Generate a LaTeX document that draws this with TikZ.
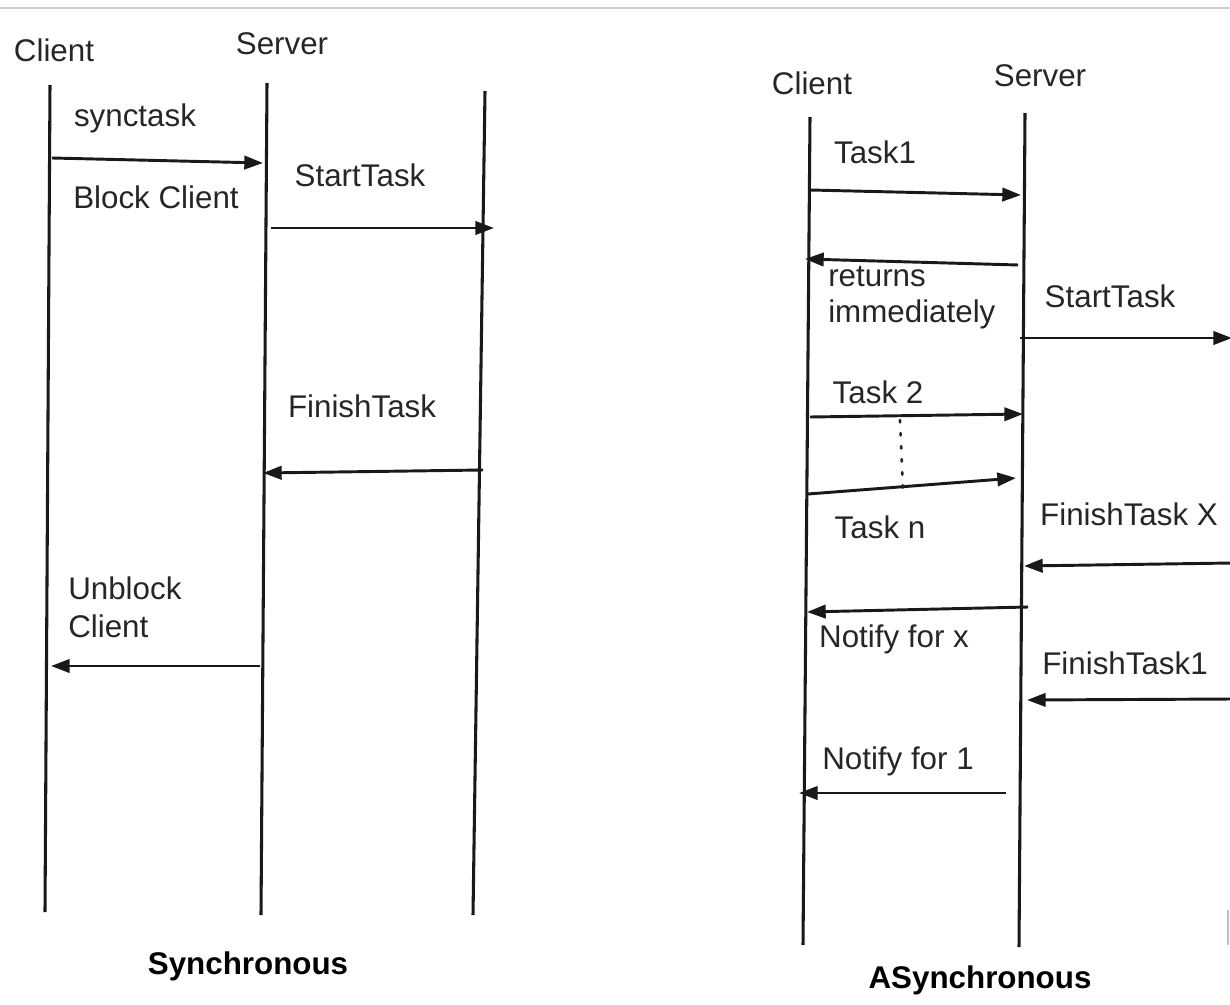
\documentclass[tikz,border=0pt]{standalone}
\usepackage{fontspec}
\setmainfont{Liberation Sans}
\usetikzlibrary{arrows.meta}
\begin{document}
\begin{tikzpicture}[x=0.75pt,y=-0.75pt,
  lifeline/.style={line width=2.3pt,black!90},
  msg/.style={line width=2.2pt,black!90,-{Triangle[length=14pt,width=10pt]}},
  lbl/.style={inner sep=0pt,font=\fontsize{23.5pt}{28pt}\selectfont,text=black!85},
  ttl/.style={inner sep=0pt,font=\fontsize{23.5pt}{28pt}\selectfont\bfseries}]
\useasboundingbox (0,0) rectangle (1230,1005);
\draw[line width=2.2pt,black!20] (0,8) -- (1230,8);
\draw[line width=1.5pt,black!25] (1228,910) -- (1228,945);
% ---------- Synchronous ----------
\coordinate (sc1) at (50,85);  \coordinate (sc2) at (45,912);
\coordinate (ss1) at (267,83); \coordinate (ss2) at (261,915);
\coordinate (sw1) at (485,91); \coordinate (sw2) at (473,915);
\draw[lifeline] (sc1) -- (sc2);
\draw[lifeline] (ss1) -- (ss2);
\draw[lifeline] (sw1) -- (sw2);
\node[lbl] (tc) at (54,50) {Client};
\node[lbl] (ts) at (282,44) {Server};
\coordinate (a1) at (52,158);  \coordinate (a2) at (263,163);
\coordinate (b1) at (271,228); \coordinate (b2) at (494,228);
\coordinate (c1) at (483,470); \coordinate (c2) at (263,473);
\coordinate (d1) at (260,666); \coordinate (d2) at (51,666);
\draw[msg] (a1) -- (a2);
\draw[msg] (b1) -- (b2);
\draw[msg] (c1) -- (c2);
\draw[msg] (d1) -- (d2);
\node[lbl] (l1) at (135,118) {synctask};
\node[lbl] (l2) at (156,197) {Block Client};
\node[lbl] (l3) at (360,175) {StartTask};
\node[lbl] (l4) at (362,406) {FinishTask};
\node[lbl,anchor=west] (l5) at (68,588) {Unblock};
\node[lbl,anchor=west] (l6) at (68,626) {Client};
\node[ttl] (t1) at (248,966) {Synchronous};
% ---------- Asynchronous ----------
\coordinate (ac1) at (810,117); \coordinate (ac2) at (803,945);
\coordinate (as1) at (1025,113); \coordinate (as2) at (1019,947);
\draw[lifeline] (ac1) -- (ac2);
\draw[lifeline] (as1) -- (as2);
\node[lbl] (rc) at (812,83) {Client};
\node[lbl] (rs) at (1040,76) {Server};
\coordinate (e1) at (810,190);  \coordinate (e2) at (1021,195);
\coordinate (f1) at (1018,265); \coordinate (f2) at (805,259);
\coordinate (g1) at (1020,338); \coordinate (g2) at (1232,338);
\coordinate (h1) at (810,417);  \coordinate (h2) at (1023,414);
\coordinate (i1) at (808,494);  \coordinate (i2) at (1016,478);
\coordinate (j1) at (1232,563); \coordinate (j2) at (1024,566);
\coordinate (k1) at (1028,607); \coordinate (k2) at (807,612);
\coordinate (m1) at (1232,699); \coordinate (m2) at (1027,700);
\coordinate (n1) at (1006,793); \coordinate (n2) at (799,793);
\draw[msg] (e1) -- (e2);
\draw[msg] (f1) -- (f2);
\draw[msg] (g1) -- (g2);
\draw[msg] (h1) -- (h2);
\draw[msg] (i1) -- (i2);
\draw[msg] (j1) -- (j2);
\draw[msg] (k1) -- (k2);
\draw[msg] (m1) -- (m2);
\draw[msg] (n1) -- (n2);
\coordinate (p1) at (900,420); \coordinate (p2) at (903,490);
\draw[line width=2pt,black!85,dash pattern=on 1.8pt off 8pt,line cap=round] (p1) -- (p2);
\node[lbl] (r1) at (875,152) {Task1};
\node[lbl,anchor=west] (r2) at (828,277) {returns};
\node[lbl,anchor=west] (r3) at (828,314) {immediately};
\node[lbl] (r4) at (1110,296) {StartTask};
\node[lbl] (r5) at (878,392) {Task 2};
\node[lbl] (r6) at (880,527) {Task n};
\node[lbl] (r7) at (1129,514) {FinishTask X};
\node[lbl] (r8) at (894,639) {Notify for x};
\node[lbl] (r9) at (1125,663) {FinishTask1};
\node[lbl] (r10) at (898,761) {Notify for 1};
\node[ttl] (t2) at (980,980) {ASynchronous};
\end{tikzpicture}
\end{document}
